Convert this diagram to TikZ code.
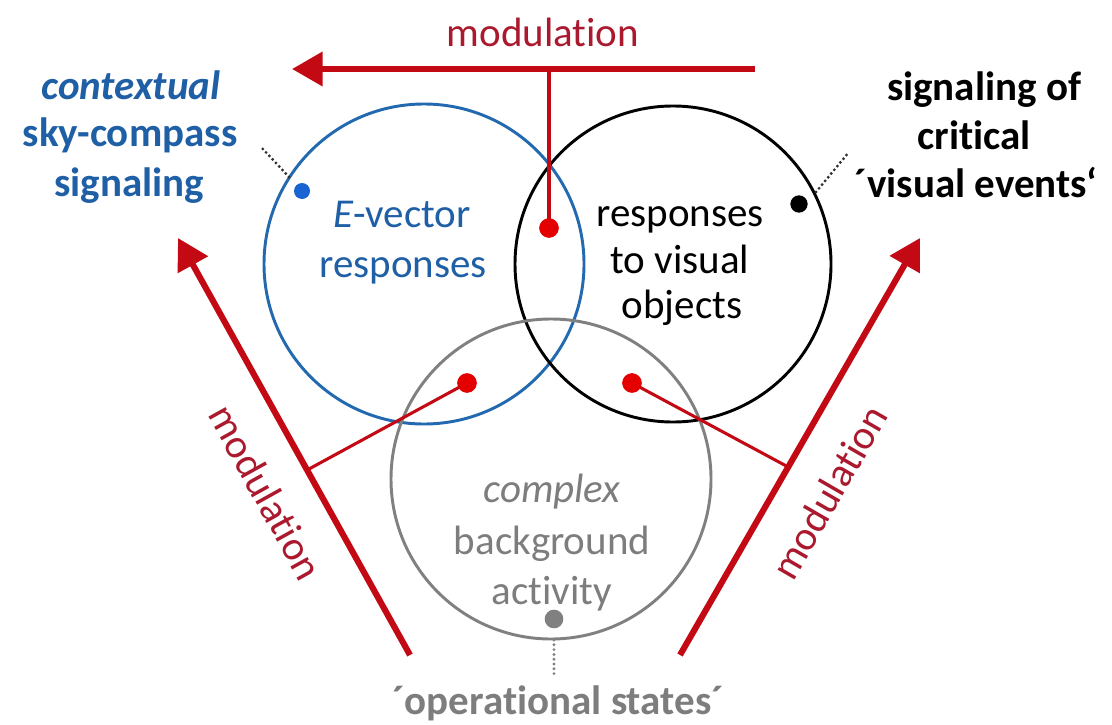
\documentclass[tikz,border=0pt]{standalone}
\usepackage{fontspec}
\setmainfont{Carlito}[Ligatures=NoCommon]
\usetikzlibrary{arrows.meta,calc}

\definecolor{ringblue}{RGB}{35,105,175}
\definecolor{textblue}{RGB}{30,95,165}
\definecolor{dotblue}{RGB}{25,100,210}
\definecolor{arrowred}{RGB}{195,10,20}
\definecolor{textred}{RGB}{170,25,45}
\definecolor{dotred}{RGB}{228,0,0}
\definecolor{ringgray}{RGB}{128,128,128}
\definecolor{textgray}{RGB}{125,125,125}
\definecolor{leader}{RGB}{50,50,50}

\begin{document}
\begin{tikzpicture}[x=0.75pt,y=-0.75pt,
  ring/.style={circle, draw=#1, line width=2.2pt, inner sep=0pt},
  txt/.style={inner sep=0pt, anchor=base, font=\fontsize{30.75pt}{37pt}\selectfont},
  boldtxt/.style={txt, font=\fontsize{30.75pt}{37pt}\selectfont\bfseries},
  mainarrow/.style={draw=arrowred, line width=4.6pt, -{Triangle[length=23pt,width=25pt]}},
  branch/.style={draw=arrowred, line width=2.3pt},
  spot/.style={circle, fill=#1, inner sep=0pt, minimum size=14.5pt},
  leaderline/.style={draw=#1, line width=2.4pt, line cap=round, dash pattern=on 0pt off 3.6pt},
]
\useasboundingbox (0,0) rectangle (1112,724);

% the three response domains
\node[ring=ringblue, minimum size=240pt] (blue) at (424,264) {};
\node[ring=black, minimum size=237pt] (black) at (673,264) {};
\node[ring=ringgray, minimum size=240pt] (gray) at (551,479) {};

% labels inside the circles
\node[txt, text=textblue] (ev1) at (402,227) {\textit{E}-vector};
\node[txt, text=textblue] (ev2) at (403,277) {responses};
\node[txt] (vo1) at (680,226) {responses};
\node[txt] (vo2) at (680,273) {to visual};
\node[txt] (vo3) at (682,318) {objects};
\node[txt, text=textgray] (bg1) at (552,502) {\textit{complex}};
\node[txt, text=textgray] (bg2) at (552,554) {background};
\node[txt, text=textgray] (bg3) at (552,604) {activity};

% outer labels
\node[boldtxt, text=textblue] (ctx1) at (131,99) {\textit{contextual}};
\node[boldtxt, text=textblue] (ctx2) at (130,146) {sky-compass};
\node[boldtxt, text=textblue] (ctx3) at (129,196) {signaling};
\node[boldtxt] (crit1) at (984,100) {signaling of};
\node[boldtxt] (crit2) at (974,149) {critical};
\node[boldtxt] (crit3) at (976,197) {´visual events‘};
\node[boldtxt, text=textgray] (ops) at (558,714) {´operational states´};

% reference points on the circles
\node[spot=dotblue, minimum size=12pt] (bdot) at (302,191) {};
\node[spot=black, minimum size=13pt] (kdot) at (799,204) {};
\node[spot=ringgray, minimum size=14pt] (gdot) at (554,619) {};

% dotted leaders to the outer labels
\coordinate (bl0) at (289,177);
\coordinate (bl1) at (261,147);
\coordinate (kl0) at (816,192);
\coordinate (kl1) at (849,152);
\coordinate (gl0) at (554,640);
\coordinate (gl1) at (554,674);
\draw[leaderline=leader] (bl0) -- (bl1);
\draw[leaderline=leader] (kl0) -- (kl1);
\draw[leaderline=ringgray] (gl0) -- (gl1);

% modulation arrows
\coordinate (topR) at (755,69);
\coordinate (topL) at (292,69);
\coordinate (topJ) at (549,69);
\coordinate (aL0) at (410,655);
\coordinate (aL1) at (178,238);
\coordinate (aR0) at (680,655);
\coordinate (aR1) at (920,238);
\coordinate (jL) at ($(aL0)!0.4436!(aL1)$);
\coordinate (jR) at ($(aR0)!0.4508!(aR1)$);

\node[spot=dotred] (mdot) at (549,228) {};
\node[spot=dotred] (ldot) at (467,383) {};
\node[spot=dotred] (rdot) at (632,383) {};

\draw[branch] (topJ) -- (mdot.center);
\draw[branch] (jL) -- (ldot.center);
\draw[branch] (jR) -- (rdot.center);
\node[spot=dotred] at (mdot) {};
\node[spot=dotred] at (ldot) {};
\node[spot=dotred] at (rdot) {};

\draw[mainarrow] (topR) -- (topL);
\draw[mainarrow] (aL0) -- (aL1);
\draw[mainarrow] (aR0) -- (aR1);

\node[txt, anchor=base, text=textred] (modT) at (543,46) {modulation};
\node[txt, anchor=center, text=textred, rotate=-61] (modL) at (266,492) {modulation};
\node[txt, anchor=center, text=textred, rotate=60] (modR) at (829,492) {modulation};
\end{tikzpicture}
\end{document}
